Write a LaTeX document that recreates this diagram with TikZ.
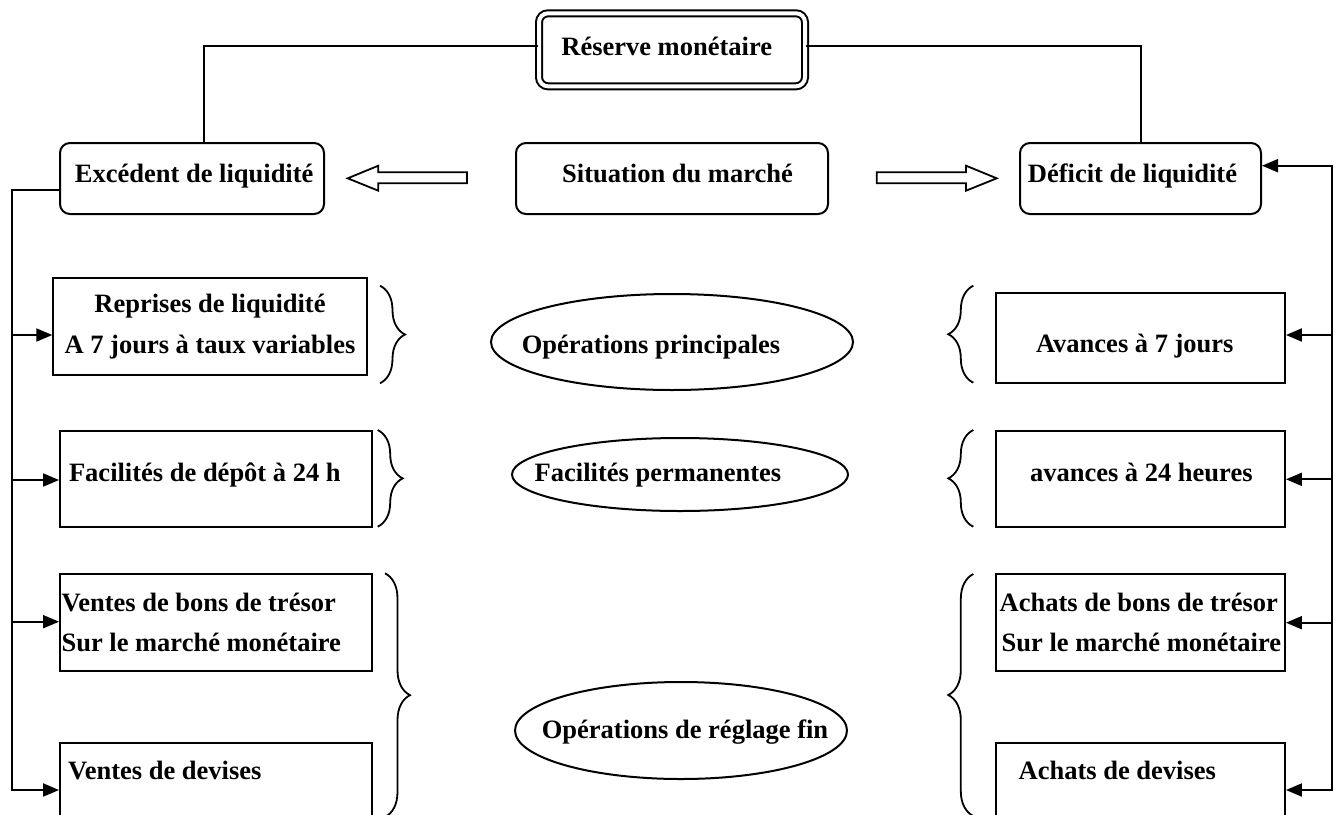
\documentclass[tikz,border=0pt]{standalone}
\usepackage{fontspec}
\setmainfont{Liberation Serif}
\usetikzlibrary{arrows.meta,shapes.geometric,decorations.pathreplacing}
\newcommand\diagfont{\fontsize{26.5pt}{40.5pt}\selectfont\bfseries}
\newcommand\shiftx[2]{\makebox[0pt]{\hspace*{#1}\hspace*{#1}#2}}
\tikzset{
  shp/.style={draw, line width=2pt, inner sep=0pt, font=\diagfont},
  one/.style={shp, text height=18.5pt},
  rbox/.style={one, rounded corners=10pt},
  sbox/.style={one},
  mbox/.style={shp},
  oval/.style={one, ellipse},
  conn/.style={line width=2pt},
  tipx/.tip={Triangle[length=16pt,width=13pt]},
  arrin/.style={conn, -tipx},
  arrboth/.style={conn, tipx-tipx},
  brc/.style={line width=1.8pt, decorate, decoration={brace, amplitude=25pt}},
  hollow/.style={line width=1.8pt, line join=miter},
}
\begin{document}
\begin{tikzpicture}[x=1pt,y=-1pt]
\useasboundingbox (0,0) rectangle (1335,814);
\fill[white] (0,0) rectangle (1335,814);
\clip (0,0) rectangle (1335,814);

% top row
\node[one, double, double distance=4pt, rounded corners=9pt, minimum width=266pt, minimum height=73pt, text depth=7.5pt] (res) at (672,49.8) {\shiftx{-5.3pt}{Réserve monétaire}};
\node[rbox, minimum width=264pt, minimum height=71pt, text depth=10.1pt] (exc) at (192,178.5) {\shiftx{2.2pt}{Excédent de liquidité}};
\node[rbox, minimum width=312pt, minimum height=71pt, text depth=10.1pt] (sit) at (672,178.5) {\shiftx{5.5pt}{Situation du marché}};
\node[rbox, minimum width=241pt, minimum height=71pt, text depth=10.1pt] (def) at (1140.5,178.5) {\shiftx{-8pt}{Déficit de liquidité}};

% left boxes
\node[mbox, minimum width=313.4pt, minimum height=96.7pt, align=center] (rep) at (210,326.7) {Reprises de liquidité\\A 7 jours à taux variables};
\node[sbox, minimum width=312.3pt, minimum height=96pt, align=flush left, text width=294.3pt, inner xsep=9pt, text depth=13.1pt] (fdep) at (216.2,478.7) {\mbox{Facilités de dépôt à 24 h}};
\node[mbox, minimum width=312.3pt, minimum height=96.7pt, align=flush left, text width=309.3pt, inner xsep=1.5pt] (vbon) at (216.2,622.3) {\mbox{Ventes de bons de trésor}\\\mbox{Sur le marché monétaire}};
\node[sbox, minimum width=312.3pt, minimum height=77pt, align=flush left, text width=296.3pt, inner xsep=8pt, text depth=21.5pt] (vdev) at (216.2,781.2) {\mbox{Ventes de devises}};

% right boxes
\node[sbox, minimum width=289.3pt, minimum height=90pt, text height=30.6pt, text depth=2pt] (av7) at (1140.3,337.7) {\shiftx{-5.5pt}{Avances à 7 jours}};
\node[sbox, minimum width=289.3pt, minimum height=96pt, text depth=13.1pt] (av24) at (1140.3,478.7) {\shiftx{1pt}{avances à 24 heures}};
\node[mbox, minimum width=289.3pt, minimum height=96.7pt, align=flush left, text width=285.3pt, inner xsep=2pt] (abon) at (1140.3,622.3) {\mbox{\hspace*{2pt}Achats de bons de trésor}\\\mbox{\hspace*{4pt}Sur le marché monétaire}};
\node[sbox, minimum width=289.3pt, minimum height=77pt, align=flush left, text width=243.3pt, inner xsep=23pt, text depth=21.5pt] (adev) at (1140.3,781.2) {\mbox{Achats de devises}};

% ellipses
\node[oval, minimum width=362pt, minimum height=96pt, text height=24.6pt, text depth=2pt] (op1) at (672,342) {\shiftx{-21pt}{Opérations principales}};
\node[oval, minimum width=336pt, minimum height=73pt, text depth=4.1pt] (op2) at (680,474.5) {\shiftx{-22pt}{Facilités permanentes}};
\node[oval, minimum width=332pt, minimum height=97pt, text depth=2.9pt] (op3) at (681,730.5) {\shiftx{4pt}{Opérations de réglage fin}};

% hollow arrows
\draw[hollow] (467,172.3) -- (378.3,172.3) -- (378.3,165.7) -- (347.7,178.3) -- (378.3,190.7) -- (378.3,183.3) -- (467,183.3) -- cycle;
\draw[hollow] (876.7,172.3) -- (966,172.3) -- (966,165.7) -- (996.7,178.3) -- (966,190.7) -- (966,183.3) -- (876.7,183.3) -- cycle;

% connectors from the reserve
\draw[conn] ([yshift=4.1pt]res.west) -| ([xshift=12pt]exc.north);
\draw[conn] ([yshift=4.1pt]res.east) -| (def.north);

% left trunk
\coordinate (Lx) at (12,0);
\path ([yshift=-11.5pt]exc.west) coordinate (excout)
      ([yshift=-8.3pt]rep.west) coordinate (repin)
      ([yshift=-1.3pt]fdep.west) coordinate (fdepin)
      ([yshift=0.6pt]vbon.west) coordinate (vbonin)
      ([yshift=-8.8pt]vdev.west) coordinate (vdevin);
\draw[arrin] (excout) -- (Lx |- excout) |- (vdevin);
\draw[arrin] (Lx |- repin) -- (repin);
\draw[arrin] (Lx |- fdepin) -- (fdepin);
\draw[arrin] (Lx |- vbonin) -- (vbonin);

% right trunk
\coordinate (Rx) at (1332.3,0);
\path ([yshift=12.8pt]def.east) coordinate (defin)
      ([yshift=2.7pt]av7.east) coordinate (av7in)
      ([yshift=-0.6pt]av24.east) coordinate (av24in)
      ([yshift=-0.4pt]abon.east) coordinate (abonin)
      ([yshift=-8.8pt]adev.east) coordinate (adevin);
\draw[arrboth] (defin) -- (Rx |- defin) |- (adevin);
\draw[arrin] (Rx |- av7in) -- (av7in);
\draw[arrin] (Rx |- av24in) -- (av24in);
\draw[arrin] (Rx |- abonin) -- (abonin);

% braces
\draw[brc] (380,285.7) -- (380,383.3);
\draw[brc] (377.7,430) -- (377.7,526.7);
\draw[brc] (385,573.3) -- (385,817);
\draw[brc] (973.3,382.7) -- (973.3,285.7);
\draw[brc] (973.3,526.7) -- (973.3,430);
\draw[brc] (973.3,816) -- (973.3,574);
\end{tikzpicture}
\end{document}
